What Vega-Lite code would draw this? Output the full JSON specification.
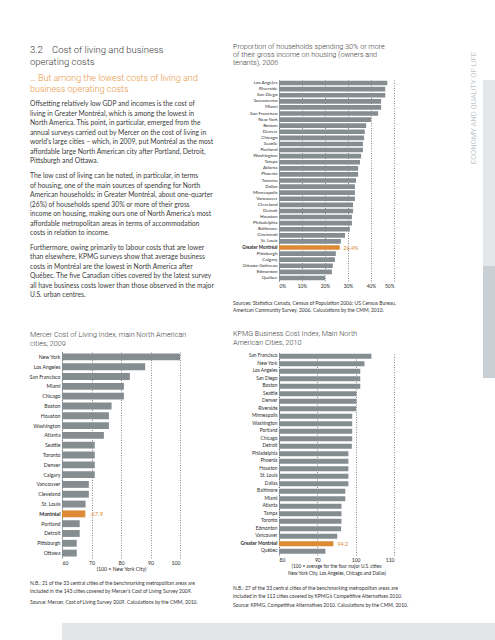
{
  "$schema": "https://vega.github.io/schema/vega-lite/v6.json",
  "background": "white",
  "padding": {"left": 29, "top": 43, "right": 0, "bottom": 0},
  "spacing": 15,
  "vconcat": [
    {
      "spacing": 58,
      "hconcat": [
        {
          "spacing": 6,
          "hconcat": [
            {
              "spacing": 31,
              "vconcat": [
                {
                  "width": 165,
                  "height": 186,
                  "title": {
                    "text": ["3.2\u00a0\u00a0\u00a0\u00a0Cost of living and business", "\u00a0\u00a0\u00a0\u00a0\u00a0\u00a0\u00a0\u00a0\u00a0operating costs"],
                    "subtitle": ["\u2026 But among the lowest costs of living and", "business operating costs"],
                    "fontSize": 9.5,
                    "lineHeight": 12,
                    "fontWeight": 300,
                    "dx": -32,
                    "subtitleFont": "Roboto",
                    "subtitleFontSize": 9.0,
                    "subtitleLineHeight": 11.3,
                    "subtitleColor": "#e8963f",
                    "subtitleFontWeight": 300,
                    "subtitlePadding": 8,
                    "offset": -14.5
                  },
                  "data": {"name": "text"},
                  "mark": {"type": "text", "align": "left", "baseline": "top", "dx": -32, "font": "Lato", "fontSize": 6.75, "lineHeight": 9.5, "color": "#3b3b3b"},
                  "encoding": {
                    "x": {"datum": 0, "type": "quantitative", "scale": {"domain": [0, 1]}, "axis": null},
                    "y": {"field": "para", "type": "ordinal", "scale": {"type": "point", "padding": 0.3}, "axis": null},
                    "text": {"field": "lines"}
                  }
                },
                {
                  "spacing": 9,
                  "vconcat": [
                    {
                      "width": 118,
                      "height": 206,
                      "title": {"text": ["Mercer Cost of Living Index, main North American", "cities, 2009"], "fontSize": 7.2, "lineHeight": 9, "dx": -32, "offset": 5},
                      "data": {"name": "mercer"},
                      "encoding": {
                        "y": {
                          "field": "city", "type": "nominal", "sort": null,
                          "scale": {"paddingInner": 0.3, "paddingOuter": 0.15},
                          "axis": {"title": null, "labelFontSize": 5.2, "labelPadding": 2,
                            "labelFontWeight": {"condition": {"test": "datum.value === 'Montréal'", "value": "bold"}, "value": "normal"}}
                        },
                        "x": {
                          "field": "index", "type": "quantitative",
                          "scale": {"domain": [60, 100], "zero": false, "nice": false},
                          "axis": {"values": [60, 70, 80, 90, 100], "domain": false, "grid": true, "labelFontSize": 5.2, "labelPadding": 2,
                            "title": "(100 = New York City)", "titleFontSize": 5.2, "titlePadding": 1.5}
                        }
                      },
                      "layer": [
                        {"mark": {"type": "bar"}, "encoding": {"x2": {"datum": 60}, "color": {"condition": {"test": "datum.city === 'Montréal'", "value": "#dc8a34"}, "value": "#858d91"}}},
                        {"transform": [{"filter": "datum.city === 'Montréal'"}], "mark": {"type": "text", "align": "left", "dx": 6, "fontSize": 6, "color": "#dc8a34"}, "encoding": {"text": {"field": "index", "type": "quantitative", "format": ".1f"}}}
                      ]
                    },
                    {
                      "width": 150,
                      "height": 18.5,
                      "data": {"name": "notesMercer"},
                      "mark": {"type": "text", "align": "left", "baseline": "top", "dx": -32, "font": "Lato", "fontSize": 5, "lineHeight": 8, "color": "#333333"},
                      "encoding": {
                        "x": {"datum": 0, "type": "quantitative", "scale": {"domain": [0, 1]}, "axis": null},
                        "y": {"field": "part", "type": "ordinal", "scale": {"type": "point", "padding": 0}, "axis": null},
                        "text": {"field": "lines"}
                      }
                    }
                  ]
                }
              ]
            },
            {
              "spacing": 15.5,
              "vconcat": [
                {
                  "spacing": 12.5,
                  "vconcat": [
                    {
                      "width": 115,
                      "height": 201,
                      "title": {"text": ["Proportion of households spending 30% or more", "of their gross income on housing (owners and", "tenants), 2006"], "fontSize": 7.2, "lineHeight": 7.8, "dx": -46, "offset": 13.5},
                      "data": {"name": "households"},
                      "encoding": {
                        "y": {
                          "field": "city", "type": "nominal", "sort": null,
                          "scale": {"paddingInner": 0.24, "paddingOuter": 0.12},
                          "axis": {"title": null, "labelFontSize": 4.6, "labelPadding": 2,
                            "labelFontWeight": {"condition": {"test": "datum.value === 'Greater Montréal'", "value": "bold"}, "value": "normal"}}
                        },
                        "x": {
                          "field": "pct", "type": "quantitative",
                          "scale": {"domain": [0, 0.5], "nice": false},
                          "axis": {"values": [0, 0.1, 0.2, 0.3, 0.4, 0.5], "format": ".0%", "domain": false, "grid": true, "labelFontSize": 4.8, "labelPadding": 2, "title": null}
                        }
                      },
                      "layer": [
                        {"mark": {"type": "bar"}, "encoding": {"color": {"condition": {"test": "datum.city === 'Greater Montréal'", "value": "#dc8a34"}, "value": "#858d91"}}},
                        {"transform": [{"filter": "datum.city === 'Greater Montréal'"}], "mark": {"type": "text", "align": "left", "dx": 3.5, "fontSize": 5.5, "color": "#dc8a34"}, "encoding": {"text": {"field": "pct", "type": "quantitative", "format": ".1%"}}}
                      ]
                    },
                    {
                      "width": 132,
                      "height": 7.6,
                      "data": {"name": "notesHouse"},
                      "mark": {"type": "text", "align": "left", "baseline": "top", "dx": -46, "font": "Lato", "fontSize": 5, "color": "#333333"},
                      "encoding": {
                        "x": {"datum": 0, "type": "quantitative", "scale": {"domain": [0, 1]}, "axis": null},
                        "y": {"field": "part", "type": "ordinal", "scale": {"type": "point", "padding": 0}, "axis": null},
                        "text": {"field": "lines"}
                      }
                    }
                  ]
                },
                {
                  "spacing": 10.5,
                  "vconcat": [
                    {
                      "width": 115,
                      "height": 202.5,
                      "title": {"text": ["KPMG Business Cost Index, Main North", "American Cities, 2010"], "fontSize": 7.2, "lineHeight": 9, "dx": -46, "offset": 6},
                      "data": {"name": "kpmg"},
                      "encoding": {
                        "y": {
                          "field": "city", "type": "nominal", "sort": null,
                          "scale": {"paddingInner": 0.36, "paddingOuter": 0.18},
                          "axis": {"title": null, "labelFontSize": 4.8, "labelPadding": 2,
                            "labelFontWeight": {"condition": {"test": "datum.value === 'Greater Montréal'", "value": "bold"}, "value": "normal"}}
                        },
                        "x": {
                          "field": "index", "type": "quantitative",
                          "scale": {"domain": [80, 110], "zero": false, "nice": false},
                          "axis": {"values": [80, 90, 100, 110], "domain": false, "grid": true, "labelFontSize": 5, "labelPadding": 2,
                            "title": ["(100 = average for the four major U.S. cities:", "New York City, Los Angeles, Chicago and Dallas)"], "titleFontSize": 4.7, "titleLineHeight": 6.5, "titlePadding": 1.5}
                        }
                      },
                      "layer": [
                        {"mark": {"type": "bar"}, "encoding": {"x2": {"datum": 80}, "color": {"condition": {"test": "datum.city === 'Greater Montréal'", "value": "#dc8a34"}, "value": "#858d91"}}},
                        {"transform": [{"filter": "datum.city === 'Greater Montréal'"}], "mark": {"type": "text", "align": "left", "dx": 4, "fontSize": 5.5, "color": "#dc8a34"}, "encoding": {"text": {"field": "index", "type": "quantitative", "format": ".1f"}}}
                      ]
                    },
                    {
                      "width": 132,
                      "height": 17,
                      "data": {"name": "notesKpmg"},
                      "mark": {"type": "text", "align": "left", "baseline": "top", "dx": -46, "font": "Lato", "fontSize": 5, "lineHeight": 7.5, "color": "#333333"},
                      "encoding": {
                        "x": {"datum": 0, "type": "quantitative", "scale": {"domain": [0, 1]}, "axis": null},
                        "y": {"field": "part", "type": "ordinal", "scale": {"type": "point", "padding": 0}, "axis": null},
                        "text": {"field": "lines"}
                      }
                    }
                  ]
                }
              ]
            }
          ]
        },
        {
          "spacing": 5,
          "hconcat": [
            {
              "width": 8,
              "height": 56,
              "data": {"values": [{"t": "ECONOMY AND QUALITY OF LIFE"}]},
              "mark": {"type": "text", "angle": 270, "align": "center", "baseline": "middle", "font": "Roboto", "fontWeight": 300, "fontSize": 7.6, "color": "#a7adb1"},
              "encoding": {"text": {"field": "t"}}
            },
            {
              "spacing": 0,
              "vconcat": [
                {"width": 14, "height": 186, "view": {"fill": "#e4e7e9", "stroke": null}, "data": {"values": []}, "mark": "point"},
                {"width": 14, "height": 112, "view": {"fill": "#c8cfd5", "stroke": null}, "data": {"values": []}, "mark": "point"}
              ]
            }
          ]
        }
      ]
    },
    {"width": 434, "height": 17, "view": {"fill": "#e3e6e8", "stroke": null}, "data": {"values": []}, "mark": "point"}
  ],
  "datasets": {
    "text": [
      {"para": "p1", "lines": ["Offsetting relatively low GDP and incomes is the cost of", "living in Greater Montréal, which is among the lowest in", "North America. This point, in particular, emerged from the", "annual surveys carried out by Mercer on the cost of living in", "world’s large cities – which, in 2009, put Montréal as the most", "affordable large North American city after Portland, Detroit,", "Pittsburgh and Ottawa."]},
      {"para": "p2", "lines": ["The low cost of living can be noted, in particular, in terms", "of housing, one of the main sources of spending for North", "American households: in Greater Montréal, about one-quarter", "(26%) of households spend 30% or more of their gross", "income on housing, making ours one of North America’s most", "affordable metropolitan areas in terms of accommodation", "costs in relation to income."]},
      {"para": "p3", "lines": ["Furthermore, owing primarily to labour costs that are lower", "than elsewhere, KPMG surveys show that average business", "costs in Montréal are the lowest in North America after", "Québec. The five Canadian cities covered by the latest survey", "all have business costs lower than those observed in the major", "U.S. urban centres."]}
    ],
    "notesMercer": [
      {"part": "a", "lines": ["N.B.: 21 of the 33 central cities of the benchmarking metropolitan areas are", "included in the 143 cities covered by Mercer’s Cost of Living Survey 2009."]},
      {"part": "b", "lines": ["Source: Mercer, Cost of Living Survey 2009. Calculations by the CMM, 2010."]}
    ],
    "notesHouse": [
      {"part": "a", "lines": ["Sources: Statistics Canada, Census of Population 2006; US Census Bureau,"]},
      {"part": "b", "lines": ["American Community Survey, 2006. Calculations by the CMM, 2010."]}
    ],
    "notesKpmg": [
      {"part": "a", "lines": ["N.B.: 27 of the 33 central cities of the benchmarking metropolitan areas are", "included in the 112 cities covered by KPMG’s Competitive Alternatives 2010."]},
      {"part": "b", "lines": ["Source: KPMG, Competitive Alternatives 2010. Calculations by the CMM, 2010."]}
    ],
    "households": [
      {"city": "Los Angeles", "pct": 0.471},
      {"city": "Riverside", "pct": 0.462},
      {"city": "San Diego", "pct": 0.462},
      {"city": "Sacramento", "pct": 0.444},
      {"city": "Miami", "pct": 0.444},
      {"city": "San Francisco", "pct": 0.431},
      {"city": "New York", "pct": 0.400},
      {"city": "Boston", "pct": 0.379},
      {"city": "Denver", "pct": 0.373},
      {"city": "Chicago", "pct": 0.370},
      {"city": "Seattle", "pct": 0.365},
      {"city": "Portland", "pct": 0.365},
      {"city": "Washington", "pct": 0.357},
      {"city": "Tampa", "pct": 0.352},
      {"city": "Atlanta", "pct": 0.344},
      {"city": "Phoenix", "pct": 0.344},
      {"city": "Toronto", "pct": 0.335},
      {"city": "Dallas", "pct": 0.330},
      {"city": "Minneapolis", "pct": 0.330},
      {"city": "Vancouver", "pct": 0.330},
      {"city": "Cleveland", "pct": 0.322},
      {"city": "Detroit", "pct": 0.322},
      {"city": "Houston", "pct": 0.317},
      {"city": "Philadelphia", "pct": 0.317},
      {"city": "Baltimore", "pct": 0.308},
      {"city": "Cincinnati", "pct": 0.287},
      {"city": "St. Louis", "pct": 0.269},
      {"city": "Greater Montréal", "pct": 0.264},
      {"city": "Pittsburgh", "pct": 0.247},
      {"city": "Calgary", "pct": 0.243},
      {"city": "Ottawa-Gatineau", "pct": 0.234},
      {"city": "Edmonton", "pct": 0.230},
      {"city": "Québec", "pct": 0.200}
    ],
    "mercer": [
      {"city": "New York", "index": 100},
      {"city": "Los Angeles", "index": 88.2},
      {"city": "San Francisco", "index": 83.0},
      {"city": "Miami", "index": 81.0},
      {"city": "Chicago", "index": 81.0},
      {"city": "Boston", "index": 76.8},
      {"city": "Houston", "index": 75.9},
      {"city": "Washington", "index": 75.9},
      {"city": "Atlanta", "index": 74.2},
      {"city": "Seattle", "index": 71.1},
      {"city": "Toronto", "index": 71.1},
      {"city": "Denver", "index": 71.1},
      {"city": "Calgary", "index": 71.1},
      {"city": "Vancouver", "index": 69.1},
      {"city": "Cleveland", "index": 69.1},
      {"city": "St. Louis", "index": 68.0},
      {"city": "Montréal", "index": 67.9},
      {"city": "Portland", "index": 66.0},
      {"city": "Detroit", "index": 66.0},
      {"city": "Pittsburgh", "index": 65.0},
      {"city": "Ottawa", "index": 65.0}
    ],
    "kpmg": [
      {"city": "San Francisco", "index": 104.1},
      {"city": "New York", "index": 102.3},
      {"city": "Los Angeles", "index": 101.2},
      {"city": "San Diego", "index": 101.2},
      {"city": "Boston", "index": 101.2},
      {"city": "Seattle", "index": 100.2},
      {"city": "Denver", "index": 100.2},
      {"city": "Riverside", "index": 100.1},
      {"city": "Minneapolis", "index": 99.1},
      {"city": "Washington", "index": 99.1},
      {"city": "Portland", "index": 99.1},
      {"city": "Chicago", "index": 99.1},
      {"city": "Detroit", "index": 99.0},
      {"city": "Philadelphia", "index": 98.1},
      {"city": "Phoenix", "index": 98.1},
      {"city": "Houston", "index": 98.1},
      {"city": "St. Louis", "index": 98.1},
      {"city": "Dallas", "index": 98.1},
      {"city": "Baltimore", "index": 97.3},
      {"city": "Miami", "index": 97.3},
      {"city": "Atlanta", "index": 96.3},
      {"city": "Tampa", "index": 96.3},
      {"city": "Toronto", "index": 96.3},
      {"city": "Edmonton", "index": 96.2},
      {"city": "Vancouver", "index": 95.2},
      {"city": "Greater Montréal", "index": 94.2},
      {"city": "Québec", "index": 92.1}
    ]
  },
  "config": {
    "view": {"stroke": null},
    "font": "Lato",
    "axis": {
      "minExtent": 0,
      "labelFont": "Lato",
      "labelColor": "#2b2b2b",
      "titleFont": "Lato",
      "titleColor": "#2b2b2b",
      "titleFontWeight": "normal",
      "ticks": false,
      "domainColor": "#555555",
      "domainDash": [1, 1],
      "domainWidth": 0.8,
      "gridColor": "#555555",
      "gridDash": [1, 1.5],
      "gridWidth": 0.7
    },
    "title": {"font": "Roboto", "fontWeight": 300, "color": "#3a3a3a", "anchor": "start", "frame": "group"}
  }
}
